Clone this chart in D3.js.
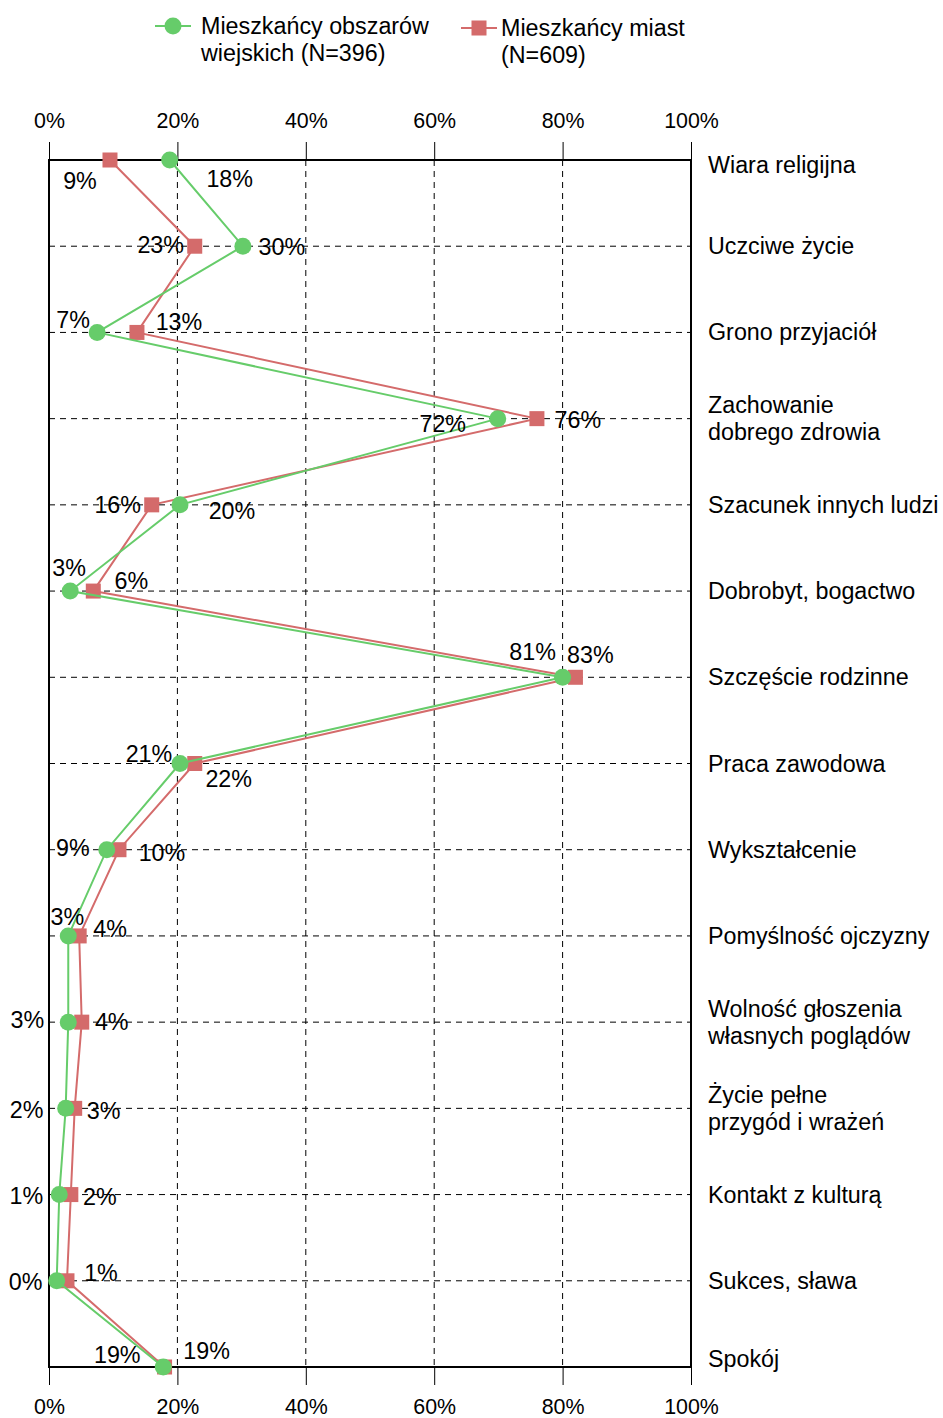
<!DOCTYPE html>
<html>
<head>
<meta charset="utf-8">
<script src="https://cdn.jsdelivr.net/npm/d3@7"></script>
<style>
    body { margin: 0; background: #fff; }
    svg text { font-family: "Liberation Sans", Arial, sans-serif; font-size: 23.3px; fill: #000; }
    svg .tick text { font-size: 21.4px; }
</style>
</head>
<body>
<div id="vis"></div>
<script>

let categories = [
    'Wiara religijna', 'Uczciwe życie', 'Grono przyjaciół', 'Zachowanie\ndobrego zdrowia',
    'Szacunek innych ludzi', 'Dobrobyt, bogactwo', 'Szczęście rodzinne', 'Praca zawodowa',
    'Wykształcenie', 'Pomyślność ojczyzny', 'Wolność głoszenia\nwłasnych poglądów',
    'Życie pełne\nprzygód i wrażeń', 'Kontakt z kulturą', 'Sukces, sława', 'Spokój'
];

// marker positions (%)
let ruralValues = [18.8, 30.2, 7.5, 69.9, 20.4, 3.3, 80.0, 20.4, 9.0, 3.0, 3.0, 2.6, 1.6, 1.2, 17.8];
let cityValues  = [9.5, 22.7, 13.7, 76.0, 16.0, 6.9, 82.0, 22.7, 10.9, 4.7, 5.1, 4.0, 3.4, 2.8, 18.0];

// printed data labels
let ruralLabels = [18, 30, 7, 72, 20, 3, 81, 21, 9, 3, 3, 2, 1, 0, 19];
let cityLabels  = [9, 23, 13, 76, 16, 6, 83, 22, 10, 4, 4, 3, 2, 1, 19];

let seriesNames = ['Mieszkańcy obszarów\nwiejskich (N=396)', 'Mieszkańcy miast\n(N=609)'];
let xTicks = [0, 20, 40, 60, 80, 100];

// label offsets from the marker (layout only)
let ruralOffsets = [[60,19],[39,1],[-24,-12],[-55,5],[52,6],[-1,-23],[-30,-25],[-31,-10],
    [-34,-2],[-1,-19],[-41,-2],[-39,2],[-33,1],[-31,1],[-46,-12]];
let cityOffsets = [[-30,21],[-34,-1],[42,-10],[41,1],[-34,0],[38,-10],[15,-22],[34,15],
    [43,3],[31,-7],[30,0],[29,3],[29,2],[34,-8],[42,-16]];

let green = '#66cc6a',
    red = '#d46b6b';

let width = 943, height = 1418;
let margin = {top: 160, left: 49, right: 252, bottom: 51};

let svg = d3.select('#vis')
    .append('svg')
    .attr('width', width)
    .attr('height', height);

let xScale = d3.scaleLinear()
    .domain([0, 100])
    .range([margin.left, width - margin.right]);

let yScale = d3.scalePoint()
    .domain(categories)
    .range([margin.top, height - margin.bottom]);

// category text is kept a little inside the frame at the ends
let labelY = d => Math.min(Math.max(yScale(d), margin.top + 5), height - margin.bottom - 8);

// grid
svg.append('g')
    .selectAll('line')
    .data(xTicks.slice(1, -1))
    .enter()
    .append('line')
    .attr('x1', d => xScale(d)).attr('x2', d => xScale(d))
    .attr('y1', margin.top).attr('y2', height - margin.bottom)
    .attr('stroke', '#000').attr('stroke-width', 1).attr('stroke-dasharray', '6,5');

svg.append('g')
    .selectAll('line')
    .data(categories.slice(1, -1))
    .enter()
    .append('line')
    .attr('x1', margin.left).attr('x2', width - margin.right)
    .attr('y1', d => yScale(d)).attr('y2', d => yScale(d))
    .attr('stroke', '#000').attr('stroke-width', 1).attr('stroke-dasharray', '6,5');

// axes
let xAxisTop = d3.axisTop(xScale)
    .tickValues(xTicks)
    .tickSize(18)
    .tickPadding(14)
    .tickFormat(d => d + '%');

let xAxisBottom = d3.axisBottom(xScale)
    .tickValues(xTicks)
    .tickSize(18)
    .tickPadding(14)
    .tickFormat(d => d + '%');

svg.append('g')
    .attr('transform', 'translate(0,' + margin.top + ')')
    .call(xAxisTop)
    .call(g => g.select('.domain').remove());

svg.append('g')
    .attr('transform', 'translate(0,' + (height - margin.bottom) + ')')
    .call(xAxisBottom)
    .call(g => g.select('.domain').remove());

svg.selectAll('.tick text')
    .attr('font-family', null)
    .attr('font-size', null);

svg.selectAll('.tick line')
    .attr('stroke', '#000');

// plot frame
svg.append('rect')
    .attr('x', margin.left)
    .attr('y', margin.top)
    .attr('width', xScale(100) - xScale(0))
    .attr('height', (height - margin.bottom) - margin.top)
    .attr('fill', 'none')
    .attr('stroke', '#000')
    .attr('stroke-width', 2);

// category labels
let catLabels = svg.append('g')
    .selectAll('text')
    .data(categories)
    .enter()
    .append('text')
    .attr('x', width - margin.right + 17)
    .attr('y', d => labelY(d))
    .attr('dominant-baseline', 'central');

catLabels.each(function(d) {
    let lines = d.split('\n');
    let el = d3.select(this);
    lines.forEach((l, i) => {
        el.append('tspan')
            .attr('x', width - margin.right + 17)
            .attr('dy', i === 0 ? (-(lines.length - 1) * 27 / 2) : 27)
            .text(l);
    });
});

// series
let line = d3.line()
    .x(d => xScale(d.v))
    .y(d => yScale(d.c));

function drawSeries(values, labels, offsets, color, shape) {
    let pts = values.map((v, i) => ({v: v, c: categories[i], label: labels[i], off: offsets[i]}));
    let g = svg.append('g');

    g.append('path')
        .datum(pts)
        .attr('d', line)
        .attr('fill', 'none')
        .attr('stroke', color)
        .attr('stroke-width', 2);

    if (shape === 'square') {
        g.selectAll('rect')
            .data(pts)
            .enter()
            .append('rect')
            .attr('x', d => xScale(d.v) - 7.5)
            .attr('y', d => yScale(d.c) - 7.5)
            .attr('width', 15)
            .attr('height', 15)
            .attr('fill', color);
    } else {
        g.selectAll('circle')
            .data(pts)
            .enter()
            .append('circle')
            .attr('cx', d => xScale(d.v))
            .attr('cy', d => yScale(d.c))
            .attr('r', 8.5)
            .attr('fill', color);
    }
    return pts;
}

let cityPts = drawSeries(cityValues, cityLabels, cityOffsets, red, 'square');
let ruralPts = drawSeries(ruralValues, ruralLabels, ruralOffsets, green, 'circle');

// data labels on top
svg.append('g')
    .selectAll('text')
    .data(cityPts.concat(ruralPts))
    .enter()
    .append('text')
    .attr('x', d => xScale(d.v) + d.off[0])
    .attr('y', d => yScale(d.c) + d.off[1])
    .attr('text-anchor', 'middle')
    .attr('dominant-baseline', 'central')
    .text(d => d.label + '%');

// legend
let legendItems = [
    {name: seriesNames[0], color: green, shape: 'circle', x: 155, tx: 201, y: 26},
    {name: seriesNames[1], color: red, shape: 'square', x: 461, tx: 501, y: 28}
];

let legend = svg.append('g')
    .selectAll('g')
    .data(legendItems)
    .enter()
    .append('g');

legend.append('line')
    .attr('x1', d => d.x).attr('x2', d => d.x + 36)
    .attr('y1', d => d.y).attr('y2', d => d.y)
    .attr('stroke', d => d.color).attr('stroke-width', 2);

legend.filter(d => d.shape === 'circle')
    .append('circle')
    .attr('cx', d => d.x + 18).attr('cy', d => d.y)
    .attr('r', 8.5)
    .attr('fill', d => d.color);

legend.filter(d => d.shape === 'square')
    .append('rect')
    .attr('x', d => d.x + 18 - 7.5).attr('y', d => d.y - 7.5)
    .attr('width', 15).attr('height', 15)
    .attr('fill', d => d.color);

legend.append('text')
    .attr('y', d => d.y)
    .attr('dominant-baseline', 'central')
    .each(function(d) {
        let el = d3.select(this);
        d.name.split('\n').forEach((l, i) => {
            el.append('tspan')
                .attr('x', d.tx)
                .attr('dy', i === 0 ? 0 : 27)
                .text(l);
        });
    });

</script>
</body>
</html>
